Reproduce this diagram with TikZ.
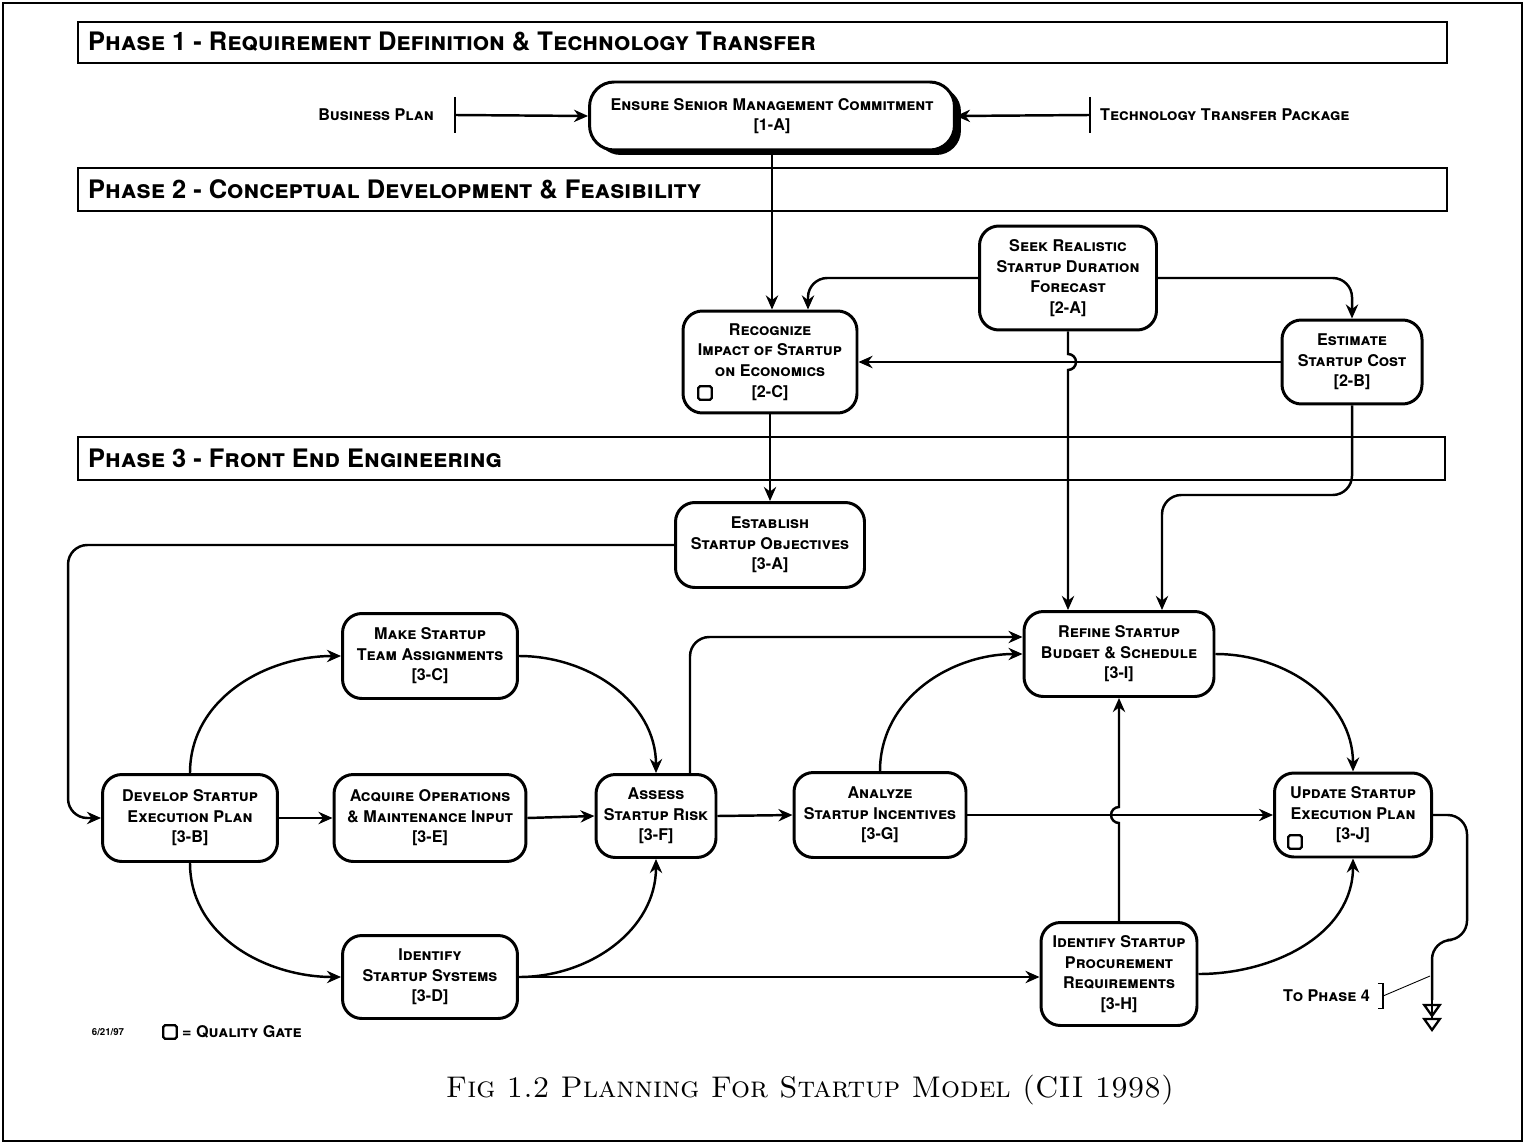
\documentclass[tikz,border=0pt]{standalone}
\usepackage{fontspec}
\setsansfont{TeX Gyre Heros}
\usetikzlibrary{arrows.meta,shadows}

\newcommand\stagefont{\sffamily\bfseries\scshape\fontsize{9.2}{11.7}\selectfont}
\newcommand\phasefont{\sffamily\bfseries\scshape\fontsize{14.5}{16}\selectfont}

\tikzset{
  stage/.style={draw, line width=1.7pt, rounded corners=11pt, fill=white, align=center, font=\stagefont, inner sep=1pt},
  flow/.style={line width=1.4pt, -{Stealth[length=8pt,width=7pt]}, rounded corners=11pt},
  plain/.style={line width=1.4pt, rounded corners=11pt},
  phasebar/.style={draw, line width=1.1pt},
  gate/.style={draw, line width=1.3pt, rounded corners=1pt, minimum size=0.27cm, inner sep=0pt},
  exittip/.tip={Triangle[open,length=8pt,width=11pt,line width=1.3pt]},
}

\begin{document}
\begin{tikzpicture}[x=0.02cm,y=-0.02cm]
\useasboundingbox (0,0) rectangle (1527,1145);
\draw [line width=1pt] (3,3) rectangle (1522,1141);

% phase bars
\draw [phasebar] (78,22) rectangle (1447,63);
\node [font=\phasefont, anchor=west] (ph1) at (82,42) {Phase 1 - Requirement Definition \& Technology Transfer};
\draw [phasebar] (78,168) rectangle (1447,211);
\node [font=\phasefont, anchor=west] (ph2) at (82,189) {Phase 2 - Conceptual Development \& Feasibility};
\draw [phasebar] (78,437) rectangle (1445,480);
\node [font=\phasefont, anchor=west] (ph3) at (82,458) {Phase 3 - Front End Engineering};

% phase 1
\node [stage, minimum width=7.3cm, minimum height=1.36cm, rounded corners=14pt,
  drop shadow={shadow xshift=0.13cm, shadow yshift=-0.1cm, fill=black, opacity=1}] (n1A) at (772,116)
  {Ensure Senior Management Commitment\\{[1-A]}};
\node [font=\stagefont, anchor=east] (bizplan) at (440,115) {Business Plan};
\coordinate (bizbar) at (455,115);
\draw [line width=1pt] ([yshift=0.36cm]bizbar) -- ([yshift=-0.36cm]bizbar);
\draw [flow] (bizbar) -- (n1A.west);
\node [font=\stagefont, anchor=west] (techpack) at (1094,115) {Technology Transfer Package};
\coordinate (techbar) at (1090,115);
\draw [line width=1pt] ([yshift=0.36cm]techbar) -- ([yshift=-0.36cm]techbar);
\draw [flow] (techbar) -- (n1A.east);

% phase 2
\node [stage, minimum width=3.54cm, minimum height=2.08cm] (n2A) at (1068,278) {Seek Realistic\\Startup Duration\\Forecast\\{[2-A]}};
\node [stage, minimum width=3.48cm, minimum height=2.04cm] (n2C) at (770,362) {Recognize\\Impact of Startup\\on Economics\\{[2-C]}};
\node [gate] (gate2C) at (705,393) {};
\node [stage, minimum width=2.8cm, minimum height=1.68cm] (n2B) at (1352,362) {Estimate\\Startup Cost\\{[2-B]}};

\draw [flow] (n1A.south) -- (n1A.south |- n2C.north);
\draw [flow] (n2A.west) -| ([xshift=0.76cm]n2C.north);
\draw [flow] (n2A.east) -| (n2B.north);
\draw [flow] (n2B.west) -- (n2C.east);

% phase 3
\node [stage, minimum width=3.78cm, minimum height=1.7cm] (n3A) at (770,545) {Establish\\Startup Objectives\\{[3-A]}};
\node [stage, minimum width=3.5cm, minimum height=1.74cm] (n3B) at (190,818) {Develop Startup\\Execution Plan\\{[3-B]}};
\node [stage, minimum width=3.5cm, minimum height=1.7cm] (n3C) at (430,656) {Make Startup\\Team Assignments\\{[3-C]}};
\node [stage, minimum width=3.84cm, minimum height=1.74cm] (n3E) at (430,818) {Acquire Operations\\\& Maintenance Input\\{[3-E]}};
\node [stage, minimum width=3.5cm, minimum height=1.66cm] (n3D) at (430,977) {Identify\\Startup Systems\\{[3-D]}};
\node [stage, minimum width=2.4cm, minimum height=1.66cm] (n3F) at (656,816) {Assess\\Startup Risk\\{[3-F]}};
\node [stage, minimum width=3.44cm, minimum height=1.7cm] (n3G) at (880,815) {Analyze\\Startup Incentives\\{[3-G]}};
\node [stage, minimum width=3.8cm, minimum height=1.7cm] (n3I) at (1119,654) {Refine Startup\\Budget \& Schedule\\{[3-I]}};
\node [stage, minimum width=3.12cm, minimum height=2.06cm] (n3H) at (1119,974) {Identify Startup\\Procurement\\Requirements\\{[3-H]}};
\node [stage, minimum width=3.14cm, minimum height=1.68cm] (n3J) at (1353,815) {Update Startup\\Execution Plan\\{[3-J]}};
\node [gate] (gate3J) at (1295,842) {};

\draw [flow] (n2C.south) -- (n3A.north);
\draw [flow, sharp corners] (n2A.south) -- ([yshift=0.16cm]n2A.south |- n2B.west)
  arc [start angle=90, end angle=-90, radius=0.16cm] -- (n2A.south |- n3I.north);
\coordinate (bend2B) at (1352,495);
\draw [flow] (n2B.south) -- (bend2B) -| ([xshift=0.86cm]n3I.north);
\draw [flow] (n3A.west) -| ([xshift=-0.66cm]n3B.west) -- (n3B.west);

\draw [flow] (n3B.north) to [out=90, in=180] (n3C.west);
\draw [flow] (n3B.east) -- (n3E.west);
\draw [flow] (n3B.south) to [out=-90, in=180] (n3D.west);
\draw [flow] (n3C.east) to [out=0, in=90] (n3F.north);
\draw [flow] (n3E.east) -- (n3F.west);
\draw [flow] (n3D.east) to [out=0, in=-90] (n3F.south);
\draw [flow] (n3D.east) -- (n3D.east -| n3H.west);
\draw [flow] ([xshift=0.68cm]n3F.north) |- ([yshift=0.34cm]n3I.west);
\draw [flow] (n3F.east) -- (n3G.west);
\draw [flow] (n3G.north) to [out=90, in=180] (n3I.west);
\draw [flow] (n3G.east) -- (n3J.west);
\draw [flow, sharp corners] (n3H.north) -- ([yshift=-0.16cm]n3H.north |- n3G.east)
  arc [start angle=270, end angle=90, radius=0.16cm] -- (n3I.south);
\draw [flow] (n3I.east) to [out=0, in=90] (n3J.north);
\draw [flow] (n3H.east) to [out=0, in=-90] (n3J.south);

% to phase 4
\coordinate (exit4) at (1432,1032);
\draw [plain] (n3J.east) -- (1467,815) -- (1467,940) -- (1432,940) -- (1432,1000);
\draw [line width=1.4pt, -{exittip[sep=0pt]exittip}] (1432,995) -- (exit4);
\node [font=\stagefont, anchor=east] (tophase) at (1376,996) {To Phase 4};
\draw [line width=0.8pt] ([xshift=1pt,yshift=7pt]tophase.east) -- ++(3pt,0) -- ++(0,-14pt) -- ++(-3pt,0);
\draw [line width=0.5pt] ([xshift=4pt]tophase.east) -- (1430,976);

% legend
\node [font=\sffamily\bfseries\fontsize{5.5}{6}\selectfont] (datemark) at (108,1032) {6/21/97};
\node [gate] (legendgate) at (170,1032) {};
\node [font=\stagefont, anchor=west] (legendtext) at (176,1032) {= Quality Gate};

% caption
\node [font=\fontsize{17}{20}\selectfont\scshape] (caption) at (810,1090) {Fig 1.2 Planning For Startup Model (CII 1998)};
\end{tikzpicture}
\end{document}
